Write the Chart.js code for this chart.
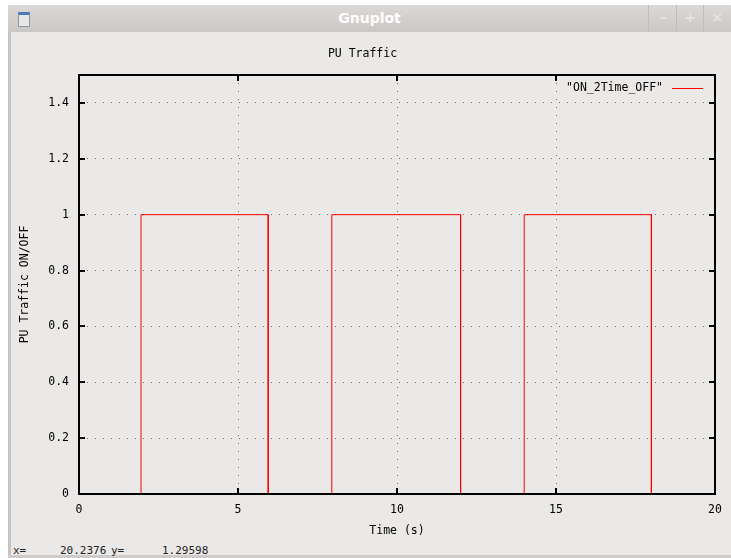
<!DOCTYPE html>
<html>
<head>
<meta charset="utf-8">
<script src="https://cdn.jsdelivr.net/npm/chart.js@4/dist/chart.umd.min.js"></script>
<style>
  html, body { margin:0; padding:0; background:#ffffff; width:731px; height:558px; overflow:hidden; }
  #win { position:absolute; left:8px; top:5px; width:723px; height:553px; background:#ebe9e7; border-left:3px solid #c9c4c4; box-sizing:border-box; }
  #titlebar { position:absolute; left:8px; top:5px; width:723px; height:27px; background:linear-gradient(#dcd8d6,#cbc7c5); }
  #titlebar .t { position:absolute; left:0; width:100%; top:5px; text-align:center; font:bold 14px "DejaVu Sans", sans-serif; color:#ffffff; }
  #icon { position:absolute; left:18px; top:12px; width:10px; height:11px; background:#e8e8e4; border:1px solid #8a9aa8; border-top:3px solid #4a7ab8; }
  .sep { position:absolute; top:5px; width:1px; height:27px; background:#c2bebc; }
  .btn { position:absolute; top:9px; width:26px; text-align:center; font:bold 14px "DejaVu Sans", sans-serif; color:#e6e3e2; }
  #bottomline { position:absolute; left:8px; top:555px; width:723px; height:3px; background:#cfcbca; }
  .st { position:absolute; top:544px; font:11px "DejaVu Sans Mono", monospace; color:#222; white-space:pre; }
  #c { position:absolute; left:0; top:0; }
</style>
</head>
<body>
<div id="win"></div>
<div id="titlebar"><div class="t">Gnuplot</div></div>
<div id="icon"></div>
<div class="sep" style="left:648px"></div>
<div class="sep" style="left:676px"></div>
<div class="sep" style="left:703px"></div>
<div class="btn" style="left:650px">–</div>
<div class="btn" style="left:677px">+</div>
<div class="btn" style="left:704px">×</div>
<div id="bottomline"></div>
<div class="st" style="left:13px">x=</div>
<div class="st" style="left:60px">20.2376</div>
<div class="st" style="left:111px">y=</div>
<div class="st" style="left:162px">1.29598</div>
<canvas id="c" width="731" height="558"></canvas>
<script>
// ---- data ----
const time  = [0, 1.95, 1.95, 5.95, 5.95, 7.95, 7.95, 12, 12, 14, 14, 18, 18, 20];
const state = [0, 0,    1,    1,    0,    0,    1,    1,  0,  0,  1,  1,  0,  0];
const seriesLabel = '"ON_2Time_OFF"';
const chartTitle = 'PU Traffic';
const xTitle = 'Time (s)';
const yTitle = 'PU Traffic ON/OFF';
const xTicks = [0, 5, 10, 15, 20];
const yTicks = [0, 0.2, 0.4, 0.6, 0.8, 1, 1.2, 1.4];

const FONT = { family: '"DejaVu Sans Mono", monospace', size: 11.5 };
const points = time.map((t, i) => ({ x: t, y: state[i] }));

const framePlugin = {
  id: 'frame',
  afterDraw(chart) {
    const { ctx, chartArea: a, scales: { x, y } } = chart;
    ctx.save();
    ctx.strokeStyle = '#000';
    ctx.lineWidth = 2;
    ctx.beginPath();
    xTicks.forEach(v => {
      const px = Math.round(x.getPixelForValue(v));
      ctx.moveTo(px, a.bottom); ctx.lineTo(px, a.bottom - 6);
      ctx.moveTo(px, a.top); ctx.lineTo(px, a.top + 6);
    });
    yTicks.forEach(v => {
      const py = Math.round(y.getPixelForValue(v));
      ctx.moveTo(a.left, py); ctx.lineTo(a.left + 6, py);
      ctx.moveTo(a.right, py); ctx.lineTo(a.right - 6, py);
    });
    ctx.stroke();
    ctx.strokeRect(Math.round(a.left), Math.round(a.top), Math.round(a.right - a.left), Math.round(a.bottom - a.top));
    // legend inside plot
    ctx.font = FONT.size + 'px ' + FONT.family;
    ctx.fillStyle = '#000';
    ctx.textAlign = 'right';
    ctx.textBaseline = 'middle';
    ctx.fillText(seriesLabel, a.right - 52, a.top + 13);
    ctx.strokeStyle = '#ff0000';
    ctx.lineWidth = 1;
    ctx.beginPath();
    ctx.moveTo(a.right - 43, a.top + 13.5);
    ctx.lineTo(a.right - 12, a.top + 13.5);
    ctx.stroke();
    ctx.restore();
  }
};

new Chart(document.getElementById('c'), {
  type: 'scatter',
  data: {
    datasets: [{
      label: seriesLabel,
      data: points,
      showLine: true,
      borderColor: '#ff0000',
      backgroundColor: '#ff0000',
      borderWidth: 1,
      pointRadius: 0,
      fill: false
    }]
  },
  options: {
    responsive: false,
    devicePixelRatio: 1,
    animation: false,
    layout: { padding: { left: 10, right: 16, top: 0, bottom: 0 } },
    plugins: {
      legend: { display: false },
      tooltip: { enabled: false },
      title: {
        display: true,
        text: chartTitle,
        color: '#000',
        font: { family: FONT.family, size: FONT.size, weight: 'normal' },
        padding: { top: 47, bottom: 14.2 }
      }
    },
    scales: {
      x: {
        type: 'linear',
        min: 0, max: 20,
        afterFit(s) { s.height = 64; },
        afterBuildTicks(s) { s.ticks = xTicks.map(v => ({ value: v })); },
        ticks: { color: '#000', font: FONT, padding: 9, maxRotation: 0 },
        grid: {
          drawTicks: false,
          lineWidth: 1,
          color: c => (c.tick && (c.tick.value === 0 || c.tick.value === 20)) ? 'rgba(0,0,0,0)' : '#707070'
        },
        border: { display: false, dash: [1, 7] },
        title: { display: true, text: xTitle, color: '#000', font: FONT, padding: { top: 0, bottom: 20 } }
      },
      y: {
        type: 'linear',
        min: 0, max: 1.5,
        afterFit(s) { s.width = 69; },
        afterBuildTicks(s) { s.ticks = yTicks.map(v => ({ value: v })); },
        ticks: { color: '#000', font: FONT, padding: 10, callback: v => String(+Number(v).toFixed(1)) },
        grid: {
          drawTicks: false,
          lineWidth: 1,
          color: c => (c.tick && c.tick.value === 0) ? 'rgba(0,0,0,0)' : '#707070'
        },
        border: { display: false, dash: [1, 7] },
        title: { display: true, text: yTitle, color: '#000', font: FONT, padding: { top: 8, bottom: 0 } }
      }
    }
  },
  plugins: [framePlugin]
});
</script>
</body>
</html>
